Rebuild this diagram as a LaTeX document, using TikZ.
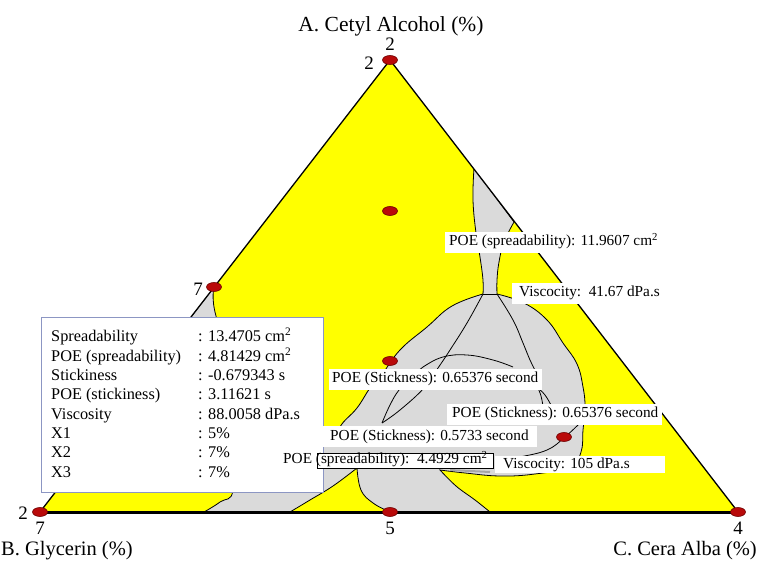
\documentclass[tikz,border=0pt]{standalone}
\usepackage{fontspec}
\setmainfont{Liberation Serif}
\usetikzlibrary{shapes.geometric}
\definecolor{yel}{RGB}{255,255,0}
\definecolor{gry}{RGB}{218,218,218}
\definecolor{dotf}{RGB}{185,10,10}
\definecolor{dotb}{RGB}{110,0,0}
\definecolor{legb}{RGB}{140,150,195}
\newcommand{\lbox}[2]{\makebox[#1][l]{#2}}
\begin{document}
\begin{tikzpicture}[x=1pt,y=-1pt,
  reddot/.style={ellipse, draw=dotb, fill=dotf, line width=0.6pt, minimum width=15pt, minimum height=9pt, inner sep=0pt},
  contour/.style={draw=black, line width=0.8pt},
  lbl/.style={fill=white, anchor=base west, inner xsep=3pt, inner ysep=3pt, text height=11pt, text depth=4pt, font=\fontsize{15.3}{18}\selectfont},
  legtxt/.style={anchor=base west, inner sep=0pt, font=\fontsize{16.3}{19}\selectfont},
  axtitle/.style={inner sep=0pt},
  tick/.style={font=\fontsize{19}{22}\selectfont, inner sep=0pt}]
\useasboundingbox (0,0) rectangle (761,561);
\coordinate (A) at (390,60);
\coordinate (B) at (40,512);
\coordinate (C) at (738,512);
\fill[yel] (A) -- (B) -- (C) -- cycle;
\begin{scope}
\clip (A) -- (B) -- (C) -- cycle;
\filldraw[fill=gry, contour] (474,168) -- (514,222)
  -- plot[smooth,tension=0.7] coordinates {(514,222) (504,242) (499,262) (497,280) (497,294)}
  -- plot[smooth,tension=0.7] coordinates {(497,294) (524,303) (547,320) (563,343) (577,364) (583,387) (585,407) (583,430) (581,452) (570,467) (535,474) (500,476) (465,473) (440,470)}
  -- plot[smooth,tension=0.7] coordinates {(440,470) (456,486) (475,500) (490,512)}
  -- (390,512)
  -- plot[smooth,tension=0.7] coordinates {(390,512) (373,503) (361,490) (357,468)}
  -- plot[smooth,tension=0.7] coordinates {(357,468) (333,486) (310,500) (290,512)}
  -- (204,512)
  -- plot[smooth,tension=0.7] coordinates {(204,512) (220,502) (233,490) (228,440) (210,370) (181,330)}
  -- (214,287)
  -- plot[smooth,tension=0.7] coordinates {(214,287) (216,316) (240,380) (290,420) (320,440) (336,446)}
  -- plot[smooth,tension=0.7] coordinates {(336,446) (340,427) (357,408) (370,388) (381,376) (400,350) (427,327) (452,306) (483,294)}
  -- plot[smooth,tension=0.7] coordinates {(483,294) (483,280) (480,257) (476,233) (473,200) (474,168)}
  -- cycle;
\draw[contour] (483,294) -- (497,294);
\draw[contour] plot[smooth,tension=0.7] coordinates {(483,294) (467,323) (450,350) (438,368) (424,388) (400,410) (382,423)};
\draw[contour] plot[smooth,tension=0.7] coordinates {(382,423) (390,405) (399,390) (412,376) (423,367) (443,357) (467,355) (493,360) (513,367)};
\draw[contour] plot[smooth,tension=0.7] coordinates {(497,294) (513,320) (523,343) (530,360) (536,372)};
\draw[contour] plot[smooth,tension=0.7] coordinates {(538,388) (541,396) (543,406)};
\draw[contour] plot[smooth,tension=0.7] coordinates {(538,388) (545,395) (551,405)};
\draw[contour] plot[smooth,tension=0.7] coordinates {(583,420) (565,437) (547,450) (520,457) (500,461)};
\draw[line width=2pt, gray!70] (450,470) -- (490,472);
\end{scope}
\draw[line width=1.3pt] (B) -- (A) -- (C);
\draw[line width=3pt] (B) -- (C);
% dots
\node[reddot] (dA) at (390,60) {};
\node[reddot] (d2) at (390,211) {};
\node[reddot] (d3) at (214,287) {};
\node[reddot] (d4) at (390,361) {};
\node[reddot] (d5) at (564,437) {};
\node[reddot] (dB) at (40,512) {};
\node[reddot] (d7) at (390,512) {};
\node[reddot] (dC) at (738,512) {};
% axis texts
\node[axtitle, font=\fontsize{21.5}{24}\selectfont, anchor=base] (tA) at (391,32) {A. Cetyl Alcohol (\%)};
\node[tick] (nA1) at (390,44) {2};
\node[tick] (nA2) at (369,63) {2};
\node[tick] (n7) at (198,289) {7};
\node[tick] (nB1) at (23,513) {2};
\node[tick] (nB2) at (40,528) {7};
\node[tick] (nM) at (390,528) {5};
\node[tick] (nC) at (738,528) {4};
\node[axtitle, font=\fontsize{20.5}{23}\selectfont, anchor=base west] (tB) at (1,555) {B. Glycerin (\%)};
\node[axtitle, font=\fontsize{20.5}{23}\selectfont, anchor=base east] (tC) at (757,555) {C. Cera Alba (\%)};
% legend
\node[draw=legb, fill=white, line width=0.8pt, minimum width=282pt, minimum height=175pt, anchor=north west, inner sep=0pt] (leg) at (41,317) {};
\node[legtxt] (k1) at (51,342) {Spreadability};
\node[legtxt] (k2) at (51,361.3) {POE (spreadability)};
\node[legtxt] (k3) at (51,380.6) {Stickiness};
\node[legtxt] (k4) at (51,399.9) {POE (stickiness)};
\node[legtxt] (k5) at (51,419.2) {Viscosity};
\node[legtxt] (k6) at (51,438.5) {X1};
\node[legtxt] (k7) at (51,457.8) {X2};
\node[legtxt] (k8) at (51,477.1) {X3};
\node[legtxt] (v1) at (198,342) {: 13.4705 cm\textsuperscript{2}};
\node[legtxt] (v2) at (198,361.3) {: 4.81429 cm\textsuperscript{2}};
\node[legtxt] (v3) at (198,380.6) {: -0.679343 s};
\node[legtxt] (v4) at (198,399.9) {: 3.11621 s};
\node[legtxt] (v5) at (198,419.2) {: 88.0058 dPa.s};
\node[legtxt] (v6) at (198,438.5) {: 5\%};
\node[legtxt] (v7) at (198,457.8) {: 7\%};
\node[legtxt] (v8) at (198,477.1) {: 7\%};
% labels
\node[lbl, inner xsep=4pt] (L1) at (445,246) {\lbox{209pt}{POE (spreadability): 11.9607 cm\textsuperscript{2}}};
\node[lbl, inner xsep=7pt] (L2) at (512,297) {\lbox{136pt}{Viscocity:\ \ 41.67 dPa.s}};
\node[lbl] (L3) at (329,383) {\lbox{207pt}{POE (Stickness): 0.65376 second}};
\node[lbl, inner xsep=5pt] (L4) at (447,418) {\lbox{205pt}{POE (Stickness): 0.65376 second}};
\node[lbl, inner xsep=7pt] (L5) at (323,440) {\lbox{200pt}{POE (Stickness): 0.5733 second}};
\node[draw=black, fill=white, line width=0.6pt, minimum width=176pt, minimum height=15pt, inner sep=0pt, anchor=north west] (L6box) at (317,453) {};
\node[anchor=base west, inner sep=0pt, font=\fontsize{15.3}{18}\selectfont] (L6) at (283,464) {POE (spreadability):\ \ 4.4929 cm\textsuperscript{2}};
\node[lbl, inner xsep=8pt, text height=10pt, text depth=3pt, inner ysep=2pt] (L7) at (495,468) {\lbox{154pt}{Viscocity: 105 dPa.s}};
\end{tikzpicture}
\end{document}
